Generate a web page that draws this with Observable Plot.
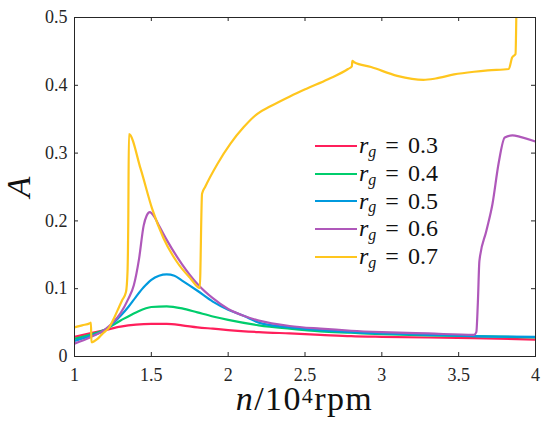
<!DOCTYPE html>
<html><head><meta charset="utf-8">
<script src="https://cdn.jsdelivr.net/npm/d3@7"></script>
<script src="https://cdn.jsdelivr.net/npm/@observablehq/plot@0.6"></script>
<style>
body{margin:0;background:#fff;}
#wrap{position:relative;width:550px;height:434px;font-family:"Liberation Serif",serif;color:#111;}
#wrap svg, #wrap svg text{font-family:"Liberation Serif",serif !important;}
#legend{position:absolute;left:315px;top:132px;}
.row{height:27.7px;display:flex;align-items:center;font-size:24px;white-space:nowrap;}
.sw{display:inline-block;width:42px;height:2px;margin-right:2px;}
.sub{font-size:16px;font-style:italic;position:relative;top:6px;}
.eq{margin:0 9px 0 9px;}
#xlab{position:absolute;left:74px;width:461px;top:382px;text-align:center;font-size:34px;line-height:34px;letter-spacing:1.4px;}
#xlab sup{font-size:22px;position:relative;top:-3px;vertical-align:top;}
#ylab{position:absolute;left:2px;top:170px;font-size:34px;font-style:italic;transform:rotate(-90deg);transform-origin:center;width:34px;text-align:center;line-height:34px;}
</style></head><body><div id="wrap"></div>
<script>
const xTicks=[1,1.5,2,2.5,3,3.5,4];
const yTicks=[0,0.1,0.2,0.3,0.4,0.5];
const seriesNames=["0.3","0.4","0.5","0.6","0.7"];
const seriesColors=["#ff1f5b","#00cd6c","#009ade","#af58ba","#ffc61e"];

const n03=[1.0,1.1,1.2,1.3,1.4,1.5,1.6,1.7,1.8,1.9,2.0,2.2,2.4,2.6,2.8,3.0,3.3,3.6,4.0];
const a03=[0.029,0.034,0.039,0.044,0.047,0.048,0.048,0.046,0.043,0.041,0.039,0.036,0.034,0.032,0.030,0.029,0.028,0.027,0.025];

const n04=[1.0,1.1,1.2,1.3,1.4,1.5,1.6,1.7,1.8,1.9,2.0,2.2,2.4,2.6,2.8,3.0,3.3,3.6,4.0];
const a04=[0.026,0.032,0.040,0.053,0.065,0.073,0.074,0.071,0.065,0.059,0.054,0.046,0.041,0.037,0.035,0.033,0.031,0.030,0.028];

const n05=[1.0,1.1,1.2,1.3,1.35,1.4,1.45,1.5,1.55,1.6,1.65,1.7,1.8,1.9,2.0,2.1,2.2,2.4,2.6,2.8,3.0,3.3,3.6,4.0];
const a05=[0.023,0.030,0.039,0.060,0.073,0.088,0.102,0.113,0.119,0.121,0.119,0.112,0.097,0.081,0.069,0.060,0.050,0.043,0.039,0.036,0.034,0.032,0.030,0.029];

const n06=[1.0,1.1,1.2,1.25,1.3,1.35,1.386,1.42,1.45,1.47,1.49,1.52,1.55,1.6,1.7,1.8,1.9,2.0,2.1,2.2,2.4,2.6,2.8,3.0,3.3,3.6,3.615,3.625,3.635,3.68,3.72,3.76,3.80,3.85,3.9,4.0];
const a06=[0.019,0.028,0.040,0.050,0.064,0.085,0.105,0.144,0.193,0.208,0.213,0.206,0.193,0.172,0.136,0.107,0.086,0.070,0.060,0.053,0.045,0.041,0.038,0.036,0.034,0.032,0.036,0.080,0.141,0.185,0.225,0.285,0.323,0.326,0.324,0.317];

const n07=[1.0,1.05,1.1,1.107,1.11,1.15,1.18,1.2,1.226,1.26,1.29,1.31,1.335,1.345,1.350,1.354,1.43,1.505,1.58,1.668,1.755,1.815,1.83,1.85,1.93,2.015,2.10,2.19,2.275,2.405,2.51,2.65,2.78,2.805,2.808,2.82,2.93,3.1,3.27,3.35,3.47,3.6,3.69,3.826,3.848,3.87,3.875];
const a07=[0.043,0.046,0.049,0.050,0.021,0.026,0.033,0.037,0.043,0.058,0.073,0.083,0.095,0.125,0.200,0.328,0.277,0.218,0.174,0.139,0.115,0.101,0.240,0.250,0.284,0.314,0.338,0.358,0.369,0.384,0.395,0.409,0.424,0.428,0.436,0.434,0.427,0.414,0.408,0.410,0.416,0.420,0.422,0.424,0.441,0.446,0.5];

const series=[
  {name:"0.3",n:n03,A:a03},
  {name:"0.4",n:n04,A:a04},
  {name:"0.5",n:n05,A:a05},
  {name:"0.6",n:n06,A:a06},
  {name:"0.7",n:n07,A:a07}
];
const rows=[];
series.forEach(s=>s.n.forEach((n,i)=>rows.push({n,A:s.A[i],r:s.name})));

const axisColor="#262626";
const chart=Plot.plot({
  width:550,height:434,
  marginLeft:74,marginRight:15,marginTop:17,marginBottom:78,
  style:{fontFamily:"Liberation Serif, serif",fontSize:"18px",color:axisColor,background:"#fff",overflow:"visible"},
  x:{domain:[1,4],ticks:xTicks,tickSize:0,tickPadding:12,label:null,tickFormat:d=>`${d}`},
  y:{domain:[0,0.5],ticks:yTicks,tickSize:0,tickPadding:7,label:null,tickFormat:d=>`${d}`},
  color:{domain:seriesNames,range:seriesColors},
  marks:[
    Plot.line(rows,{x:"n",y:"A",z:"r",stroke:"r",strokeWidth:2.2,curve:"monotone-x",clip:true}),
    Plot.tickX(xTicks,{x:d=>d,insetTop:335,stroke:axisColor}),
    Plot.tickX(xTicks,{x:d=>d,insetBottom:335,stroke:axisColor}),
    Plot.tickY(yTicks,{y:d=>d,insetRight:457,stroke:axisColor}),
    Plot.tickY(yTicks,{y:d=>d,insetLeft:457,stroke:axisColor}),
    Plot.frame({stroke:axisColor})
  ]
});
const wrap=document.getElementById("wrap");
wrap.appendChild(chart);

const legend=document.createElement("div");
legend.id="legend";
seriesNames.forEach((name,i)=>{
  const row=document.createElement("div");
  row.className="row";
  row.innerHTML=`<span class="sw" style="background:${seriesColors[i]}"></span><i>r</i><span class="sub">g</span><span class="eq">=</span>${name}`;
  legend.appendChild(row);
});
wrap.appendChild(legend);

const xlab=document.createElement("div");
xlab.id="xlab";
xlab.innerHTML=`<i>n</i>/10<sup>4</sup>rpm`;
wrap.appendChild(xlab);
const ylab=document.createElement("div");
ylab.id="ylab";
ylab.textContent="A";
wrap.appendChild(ylab);
</script></body></html>
